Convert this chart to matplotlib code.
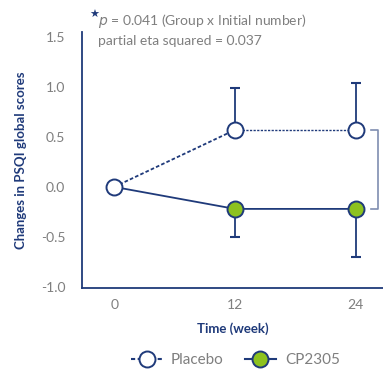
import matplotlib.pyplot as plt
from matplotlib.lines import Line2D

weeks = [0, 12, 24]
placebo = [0.0, 0.57, 0.57]
placebo_err_up = [0.0, 0.42, 0.47]
cp2305 = [0.0, -0.22, -0.22]
cp2305_err_down = [0.0, 0.28, 0.48]
yticks = [-1.0, -0.5, 0.0, 0.5, 1.0, 1.5]

navy = "#1F3A7A"
green = "#8DC21F"
gray = "#7F7F7F"

plt.rcParams["font.family"] = ["Lato", "DejaVu Sans"]

fig = plt.figure(figsize=(3.83, 3.71), dpi=100)
ax = fig.add_axes([0.214, 0.224, 0.786, 0.69])

# placebo: dotted to week 12, finer dotted between 12 and 24
ax.plot(weeks[:2], placebo[:2], ls=(0, (2, 1.2)), color=navy, lw=1.3, zorder=2)
ax.plot(weeks[1:], placebo[1:], ls=(0, (1.6, 1.0)), color=navy, lw=1.0, zorder=2)
ax.errorbar(weeks[1:], placebo[1:], yerr=[[0, 0], placebo_err_up[1:]], fmt="none",
            ecolor=navy, elinewidth=1.3, capsize=3.8, capthick=1.5, zorder=1)
ax.plot(weeks, placebo, ls="none", marker="o", ms=11.5, mfc="white", mec=navy,
        mew=1.4, zorder=4)

ax.plot(weeks, cp2305, ls="-", color=navy, lw=1.3, zorder=2)
ax.errorbar(weeks[1:], cp2305[1:], yerr=[cp2305_err_down[1:], [0, 0]], fmt="none",
            ecolor=navy, elinewidth=1.3, capsize=3.8, capthick=1.5, zorder=1)
ax.plot(weeks[1:], cp2305[1:], ls="none", marker="o", ms=11.5, mfc=green, mec=navy,
        mew=1.4, zorder=4)

# significance bracket
bx = weeks[2] + 2.2
ax.plot([weeks[2] + 1.5, bx, bx, weeks[2] + 1.5],
        [placebo[2], placebo[2], cp2305[2], cp2305[2]],
        color="#7F8EB0", lw=1.2, clip_on=False, zorder=1)

ax.set_xlim(-3.2, 26.7)
ax.set_ylim(-1.01, 1.55)
ax.set_xticks(weeks)
ax.set_yticks(yticks)
ax.set_yticklabels([f"{v:.1f}" for v in yticks])
ax.tick_params(length=0, labelsize=10, labelcolor=gray, pad=8)
ax.tick_params(axis="y", pad=12)
for s in ["top", "right"]:
    ax.spines[s].set_visible(False)
for s in ["left", "bottom"]:
    ax.spines[s].set_color(navy)
    ax.spines[s].set_linewidth(1.3)

ax.set_xlabel("Time (week)", fontsize=9.5, fontweight="bold", color=navy, labelpad=8)
ax.set_ylabel("Changes in PSQI global scores", fontsize=9.5, fontweight="bold",
              color=navy, labelpad=10)

fig.text(0.232, 0.960, "\u2605", color=navy, fontsize=8, ha="left", va="center",
         family=["DejaVu Sans"])
fig.text(0.255, 0.944, "$\\it{p}$ = 0.041 (Group x Initial number)", color=gray,
         fontsize=10, ha="left", va="center")
fig.text(0.255, 0.889, "partial eta squared = 0.037", color=gray, fontsize=10,
         ha="left", va="center")

handles = [
    Line2D([], [], ls=(0, (2, 1.2)), color=navy, marker="o", ms=11.5, mfc="white",
           mec=navy, mew=1.4),
    Line2D([], [], ls="-", color=navy, marker="o", ms=11.5, mfc=green, mec=navy,
           mew=1.4),
]
fig.legend(handles, ["Placebo", "CP2305"], loc="center", bbox_to_anchor=(0.615, 0.03),
           ncol=2, frameon=False, fontsize=11, labelcolor=gray, handlelength=2.0,
           columnspacing=1.4, handletextpad=0.6)

fig.savefig("out.png", dpi=100)
